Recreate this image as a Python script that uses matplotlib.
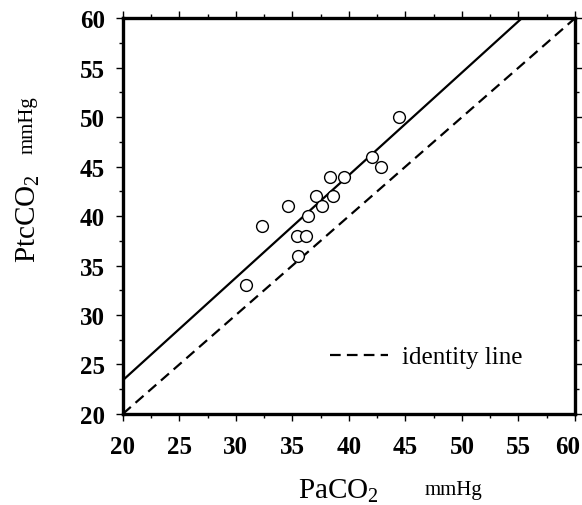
import matplotlib
matplotlib.use("Agg")
import matplotlib.pyplot as plt
import matplotlib.transforms as mtransforms
import numpy as np

# values
paco2 = [30.9, 32.3, 34.6, 35.5, 35.4, 36.2, 36.4, 37.1, 37.6, 38.3, 38.6, 39.6, 42.0, 42.8, 44.4]
ptcco2 = [33, 39, 41, 36, 38, 38, 40, 42, 41, 44, 42, 44, 46, 45, 50]
fit_slope = 1.037
fit_intercept = 2.66
axis_range = [20, 60]
major_ticks = [20, 25, 30, 35, 40, 45, 50, 55, 60]

plt.rcParams['font.family'] = ['Liberation Serif', 'DejaVu Serif']
plt.rcParams['mathtext.fontset'] = 'custom'
plt.rcParams['mathtext.rm'] = 'Liberation Serif'

fig = plt.figure(figsize=(5.82, 5.06), dpi=100)
ax = fig.add_axes([0.211, 0.180, 0.777, 0.782])

# regression line
xs = np.array(axis_range, dtype=float)
ax.plot(xs, fit_slope * xs + fit_intercept, color='black', lw=1.6, solid_capstyle='butt')

# identity line
ax.plot(xs, xs, color='black', lw=1.6, ls=(0, (4.8, 2.8)), label='identity line')

# data points
ax.plot(paco2, ptcco2, 'o', mfc='white', mec='black', mew=1.0, ms=8.5, ls='none', zorder=3)

ax.set_xlim(axis_range)
ax.set_ylim(axis_range)
ax.set_xticks(major_ticks)
ax.set_yticks(major_ticks)
ax.set_xticks(np.arange(22.5, 60, 5), minor=True)
ax.set_yticks(np.arange(22.5, 60, 5), minor=True)

for sp in ax.spines.values():
    sp.set_linewidth(2.4)

ax.tick_params(which='both', direction='out', top=True, right=True,
               labeltop=False, labelright=False, width=1.0)
ax.tick_params(which='major', length=5, labelsize=18)
ax.tick_params(axis='x', which='major', pad=10)
ax.tick_params(axis='y', which='major', pad=8)
ax.tick_params(which='minor', length=3)
for lab in ax.get_xticklabels() + ax.get_yticklabels():
    lab.set_fontweight('bold')

# last x label sits a bit left of its tick, as in the original
last = ax.get_xticklabels()[-1]
last.set_transform(last.get_transform() +
                   mtransforms.ScaledTranslation(-0.07, 0, fig.dpi_scale_trans))

ax.legend(loc='center right', bbox_to_anchor=(523 / 582, 1 - 358 / 506),
          bbox_transform=fig.transFigure, frameon=False, borderpad=0,
          borderaxespad=0, fontsize=18, handlelength=2.3, handletextpad=0.6)

# axis labels
fig.text(0.582, 0.030, r'PaCO$_\mathrm{2}$', fontsize=21, ha='center', va='center')
fig.text(0.780, 0.030, 'mmHg', fontsize=15, ha='center', va='center')
fig.text(0.048, 0.569, r'PtcCO$_\mathrm{2}$', fontsize=21, ha='center', va='center', rotation=90)
fig.text(0.048, 0.753, 'mmHg', fontsize=15, ha='center', va='center', rotation=90)

fig.savefig('out.png', dpi=100)
